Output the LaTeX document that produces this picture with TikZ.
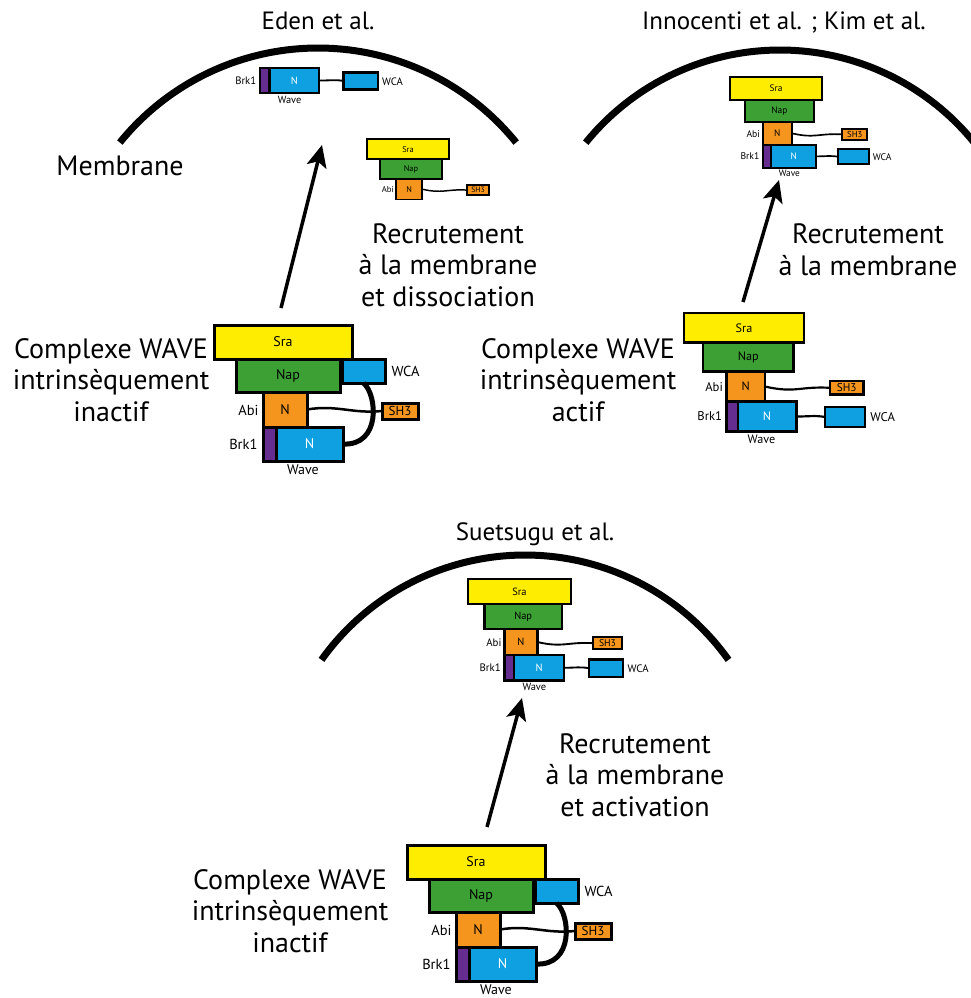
\documentclass[tikz,border=0pt]{standalone}
\usepackage{fontspec}
\setmainfont{PT Sans}
\usetikzlibrary{arrows.meta}
\definecolor{csra}{RGB}{255,237,0}
\definecolor{cnap}{RGB}{60,160,52}
\definecolor{corange}{RGB}{246,149,30}
\definecolor{cblue}{RGB}{14,160,224}
\definecolor{cpurple}{RGB}{102,45,145}
\tikzset{
  box/.style={draw=black, rectangle, inner sep=0pt, outer sep=0pt, transform shape, font=\fontsize{14}{14}\selectfont},
  lbl/.style={inner sep=0pt, transform shape, font=\fontsize{14.5}{14.5}\selectfont},
  txt/.style={align=center, inner sep=0pt, font=\fontsize{28}{31.5}\selectfont},
  ttl/.style={inner sep=0pt, anchor=base, font=\fontsize{25}{25}\selectfont},
  memb/.style={line width=7pt, line cap=butt},
  arr/.style={line width=3.5pt, -{Stealth[length=22pt,width=20pt,inset=5pt]}},
}
\newcommand\cxSraNap{%
  \node[box, fill=csra, minimum width=138, minimum height=34] (sra) at (69,17) {Sra};
  \node[box, fill=cnap, minimum width=104, minimum height=33] (nap) at (74,50.5) {Nap};
}
\newcommand\cxAbi{%
  \node[box, fill=corange, minimum width=44, minimum height=35] (abi) at (71,84.5) {N};
  \node[lbl, anchor=east] (abil) at (46,85) {Abi};
}
\newcommand\cxWave{%
  \node[box, fill=cpurple, minimum width=13, minimum height=34] (brk) at (55.5,119) {};
  \node[box, fill=cblue, minimum width=67, minimum height=34, text=white] (wave) at (95.5,119) {N};
  \node[lbl, anchor=east] (brkl) at (45,119) {Brk1};
  \node[lbl, anchor=north, font=\fontsize{14}{14}\selectfont] (wavel) at (89,138.5) {Wave};
}
\newcommand\cxInactive{%
  \node[box, fill=cblue, minimum width=43, minimum height=24] (wca) at (149.5,46) {};
  \node[lbl, anchor=west] (wcal) at (176,46) {WCA};
  \node[box, fill=corange, minimum width=36, minimum height=16, font=\fontsize{13}{13}\selectfont] (sh3) at (186,86) {SH3};
  \draw[line width=\sc*2.5pt] (abi.east) .. controls +(30,-5) and +(-30,3) .. (sh3.west);
  \draw[line width=\sc*5pt] (wca.south) .. controls +(14,12) and +(38,2) .. (wave.east);
}
\newcommand\cxActSH{%
  \node[box, fill=corange, minimum width=38, minimum height=16, font=\fontsize{13}{13}\selectfont] (sh3) at (187,86) {SH3};
  \draw[line width=\sc*2.5pt] (abi.east) .. controls +(35,8) and +(-35,-2) .. (sh3.west);
}
\newcommand\cxActWCA{%
  \node[box, fill=cblue, minimum width=46, minimum height=23] (wca) at (185,119.5) {};
  \node[lbl, anchor=west] (wcal) at (213,120) {WCA};
  \draw[line width=\sc*2.5pt] (wave.east) .. controls +(15,0) and +(-12,-2) .. (wca.west);
}
\begin{document}
\begin{tikzpicture}[x=1pt,y=-1pt]
\useasboundingbox (0,0) rectangle (971,998);

% membranes
\draw[memb] plot[domain=219:321, samples=80] ({318+255*cos(\x)}, {303+255*sin(\x)});
\draw[memb] plot[domain=219:322, samples=80] ({780+250*cos(\x)}, {300+250*sin(\x)});
\draw[memb] plot[domain=215.5:324.5, samples=80] ({525+250*cos(\x)}, {805+250*sin(\x)});

% titles and texts
\node[ttl] (t1) at (318,30) {Eden et al.};
\node[ttl] (t2) at (784,30) {Innocenti et al. ; Kim et al.};
\node[ttl] (t3) at (535,540) {Suetsugu et al.};
\node[txt] (mem) at (120,166) {Membrane};
\node[txt] (rec1) at (448,265) {Recrutement\\à la membrane\\et dissociation};
\node[txt] (cx1) at (111,380) {Complexe WAVE\\intrinsèquement\\inactif};
\node[txt] (rec2) at (868,250) {Recrutement\\à la membrane};
\node[txt] (cx2) at (578,380) {Complexe WAVE\\intrinsèquement\\actif};
\node[txt] (rec3) at (635,775) {Recrutement\\à la membrane\\et activation};
\node[txt] (cx3) at (290,911) {Complexe WAVE\\intrinsèquement\\inactif};

% top-left inactive complex
\def\sc{1}
\begin{scope}[shift={(214,325)}, scale=\sc, name prefix=a-, line width=\sc*3pt]
\cxSraNap \cxAbi \cxWave \cxInactive
\end{scope}
% top-left membrane: Sra/Nap/Abi
\def\sc{0.594}
\begin{scope}[shift={(367,139)}, scale=\sc, name prefix=b-, line width=\sc*3pt]
\cxSraNap \cxAbi \cxActSH
\end{scope}
% top-left membrane: Wave
\def\sc{0.74}
\begin{scope}[shift={(223.7,-7.5)}, scale=\sc, name prefix=c-, line width=\sc*3pt]
\cxWave \cxActWCA
\end{scope}
% top-right active complex
\def\sc{0.87}
\begin{scope}[shift={(684,313)}, scale=\sc, name prefix=d-, line width=\sc*3pt]
\cxSraNap \cxAbi \cxWave \cxActSH \cxActWCA
\end{scope}
% top-right membrane complex
\def\sc{0.667}
\begin{scope}[shift={(730,77)}, scale=\sc, name prefix=e-, line width=\sc*3pt]
\cxSraNap \cxAbi \cxWave \cxActSH \cxActWCA
\end{scope}
% bottom membrane complex
\def\sc{0.746}
\begin{scope}[shift={(468,579)}, scale=\sc, name prefix=f-, line width=\sc*3pt]
\cxSraNap \cxAbi \cxWave \cxActSH \cxActWCA
\end{scope}
% bottom inactive complex
\def\sc{1}
\begin{scope}[shift={(407,845)}, scale=\sc, name prefix=g-, line width=\sc*3pt]
\cxSraNap \cxAbi \cxWave \cxInactive
\end{scope}

% arrows
\coordinate (p1) at (281,308); \coordinate (q1) at (322,145);
\coordinate (p2) at (743,302); \coordinate (q2) at (779,180);
\coordinate (p3) at (487,827); \coordinate (q3) at (522,698);
\draw[arr] (p1) -- (q1);
\draw[arr] (p2) -- (q2);
\draw[arr] (p3) -- (q3);
\end{tikzpicture}
\end{document}
